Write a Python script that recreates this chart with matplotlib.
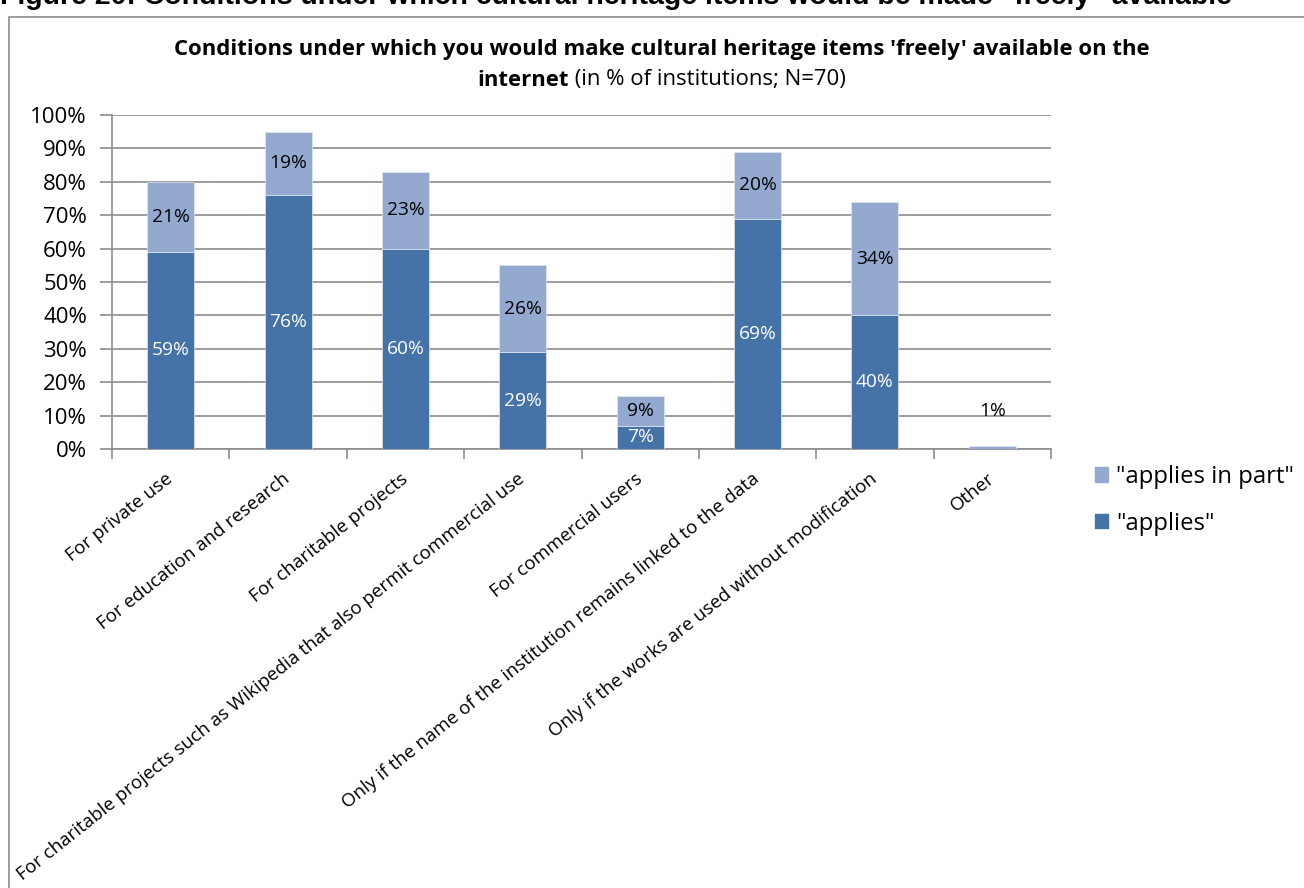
import matplotlib
matplotlib.use('Agg')
import matplotlib.pyplot as plt
from matplotlib.patches import Rectangle, Patch

# Conditions for free online availability (% of institutions, N=70)
categories = [
    'For private use',
    'For education and research',
    'For charitable projects',
    'For charitable projects such as Wikipedia that also permit commercial use',
    'For commercial users',
    'Only if the name of the institution remains linked to the data',
    'Only if the works are used without modification',
    'Other',
]
applies = [59, 76, 60, 29, 7, 69, 40, 0]
applies_in_part = [21, 19, 23, 26, 9, 20, 34, 1]
y_ticks = [0, 10, 20, 30, 40, 50, 60, 70, 80, 90, 100]

dark_blue = '#4572a7'
light_blue = '#93a9cf'
grid_grey = '#8c8c8c'

plt.rcParams['font.family'] = ['Open Sans', 'DejaVu Sans']

W, H = 1304, 888
fig = plt.figure(figsize=(W / 100, H / 100), dpi=100)

# outer chart frame, right and bottom edges run off the page
fig.patches.append(Rectangle((9 / W, -0.1), 1.2, 1 - 17 / H + 0.1,
                             transform=fig.transFigure, fill=False,
                             edgecolor='#8c8c8c', linewidth=1.2))

fig.text(0.0, 1 - 4 / H,
         'Figure 20: Conditions under which cultural heritage items would be made "freely" available',
         family='Liberation Sans', fontweight='bold', fontsize=20.5,
         ha='left', va='baseline')

title_size = 15.9
fig.text(662 / W, 1 - 49 / H,
         "Conditions under which you would make cultural heritage items 'freely' available on the",
         fontweight='bold', fontsize=title_size, ha='center', va='center')

# second title line: bold word followed by regular text, centred as one line
renderer = fig.canvas.get_renderer()
t_bold = fig.text(0, 1 - 80 / H, 'internet', fontweight='bold',
                  fontsize=title_size, ha='left', va='center')
t_rest = fig.text(0, 1 - 80 / H, ' (in % of institutions; N=70)',
                  fontsize=title_size, ha='left', va='center')
w_bold = t_bold.get_window_extent(renderer).width
w_rest = t_rest.get_window_extent(renderer).width
x0 = 662 - (w_bold + w_rest) / 2
t_bold.set_x(x0 / W)
t_rest.set_x((x0 + w_bold) / W)

ax = fig.add_axes([112 / W, 1 - 449 / H, (1051 - 112) / W, (449 - 115) / H])

x = list(range(len(categories)))
ax.bar(x, applies, width=0.4, color=dark_blue, edgecolor='#dfe6f0',
       linewidth=0.5, label='"applies"', zorder=3)
ax.bar(x, applies_in_part, width=0.4, bottom=applies, color=light_blue,
       edgecolor='#dfe6f0', linewidth=0.5, label='"applies in part"', zorder=3)

for i in x:
    if applies[i] > 0:
        ax.text(i, applies[i] / 2, f'{applies[i]}%', color='white',
                fontsize=13.8, ha='center', va='center', zorder=4)
    if applies_in_part[i] >= 5:
        ax.text(i, applies[i] + applies_in_part[i] / 2, f'{applies_in_part[i]}%',
                color='black', fontsize=13.8, ha='center', va='center', zorder=4)
    else:
        ax.text(i, applies[i] + applies_in_part[i] + 10.5, f'{applies_in_part[i]}%',
                color='black', fontsize=13.8, ha='center', va='center', zorder=4)

ax.set_xlim(-0.5, len(categories) - 0.5)
ax.set_ylim(0, 100)
ax.set_yticks(y_ticks)
ax.set_yticklabels([f'{v}%' for v in y_ticks], fontsize=16)
ax.yaxis.grid(True, color=grid_grey, linewidth=1.2, zorder=0)

ax.set_xticks(x)
ax.set_xticklabels(categories, rotation=38.5, ha='right', va='center',
                   rotation_mode='anchor', fontsize=13.5)
ax.set_xticks([i - 0.5 for i in range(len(categories) + 1)], minor=True)
ax.tick_params(axis='x', which='major', length=0, pad=20)
ax.tick_params(axis='x', which='minor', length=7, color=grid_grey, width=1.2)
ax.tick_params(axis='y', length=9, color=grid_grey, width=1.2, pad=9)

for side in ['top', 'right']:
    ax.spines[side].set_visible(False)
for side in ['left', 'bottom']:
    ax.spines[side].set_color(grid_grey)
    ax.spines[side].set_linewidth(1.2)

handles = [Patch(color=light_blue, label='"applies in part"'),
           Patch(color=dark_blue, label='"applies"')]
fig.legend(handles=handles, loc='upper left', bbox_to_anchor=(1095 / W, 1 - 465 / H),
           frameon=False, fontsize=17.2, handlelength=0.55, handleheight=0.55,
           handletextpad=0.33, labelspacing=0.95, borderpad=0, borderaxespad=0)

fig.savefig('out.png', dpi=100)
